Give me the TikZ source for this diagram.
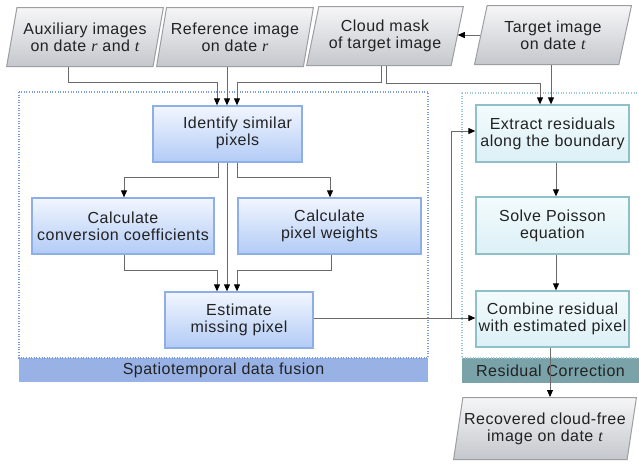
\documentclass[tikz,border=0pt]{standalone}
\usepackage{fontspec}
\setmainfont{Liberation Sans}[LetterSpace=3]
\newfontfamily\myserifit{Liberation Serif}[ItalicFont=* Italic]
\usetikzlibrary{shapes.geometric,arrows.meta,calc}
\definecolor{txtc}{HTML}{222222}
\definecolor{bluebd}{HTML}{8EAEE6}
\definecolor{bluetop}{HTML}{F2F6FE}
\definecolor{bluebot}{HTML}{B2CBF6}
\definecolor{tealbd}{HTML}{8FC0CA}
\definecolor{tealtop}{HTML}{F3FBFD}
\definecolor{tealbot}{HTML}{DCF0F6}
\definecolor{parabd}{HTML}{9C9EA2}
\definecolor{paratop}{HTML}{F6F6F7}
\definecolor{parabot}{HTML}{C4C7CC}
\definecolor{barL}{HTML}{98B2E6}
\definecolor{barR}{HTML}{79A3A9}
\definecolor{frameL}{HTML}{7C9BDB}
\definecolor{frameR}{HTML}{9CC9D3}
\definecolor{linec}{HTML}{6A6A6A}
\newcommand{\myr}{{\myserifit\itshape r}}
\newcommand{\myt}{{\myserifit\itshape t}}
\begin{document}
\begin{tikzpicture}[x=1pt,y=-1pt,
  font=\fontsize{16}{17}\selectfont,
  bluebox/.style={draw=bluebd, line width=1.3pt, top color=bluetop, bottom color=bluebot,
    minimum height=56pt, align=center, text=txtc, inner sep=0pt},
  tealbox/.style={draw=tealbd, line width=1.3pt, top color=tealtop, bottom color=tealbot,
    minimum width=153pt, minimum height=56pt, align=center, text=txtc, inner sep=0pt},
  para/.style={trapezium, trapezium left angle=72, trapezium right angle=108,
    trapezium stretches=true, draw=parabd, line width=1pt, top color=paratop,
    bottom color=parabot, minimum width=157pt, minimum height=59pt, align=center,
    text=txtc, inner sep=0pt},
  conn/.style={draw=linec, line width=0.9pt, -{Triangle[length=7pt,width=6pt,color=black]}},
  barlabel/.style={text=txtc, font=\fontsize{16}{17}\selectfont},
  frameLs/.style={draw=frameL, line width=1.2pt, dash pattern=on 1pt off 1.6pt},
  frameRs/.style={draw=frameR, line width=1.2pt, dash pattern=on 1pt off 1.6pt}
]
\useasboundingbox (0,0) rectangle (639,464);
\fill[white] (0,0) rectangle (639,464);

% frames and bars
\fill[barL] (19,358) rectangle (428,382);
\fill[barR] (462,358) rectangle (639,383);
\draw[frameLs] (19,92) rectangle (428,358);
\draw[frameRs] (462,93) -- (638,93);
\draw[frameRs] (462,93) -- (462,358) -- (639,358);
\node[barlabel] (fusionlabel) at (223.5,370.5) {Spatiotemporal data fusion};
\node[barlabel] (correctionlabel) at (550.5,370.5) {Residual Correction};

% inputs
\node[para] (aux) at (85,37) {Auxiliary images\\on date \myr{} and \myt};
\node[para] (ref) at (235,37) {Reference image\\on date \myr};
\node[para] (mask) at (385,36) {Cloud mask\\of target image};
\node[para] (target) at (553,35) {Target image\\on date \myt};
\node[para, minimum width=183pt, minimum height=62pt, trapezium left angle=74, trapezium right angle=106] (recovered) at (545,428.5) {Recovered cloud-free\\image on date \myt};

% blue boxes
\node[bluebox, minimum width=149pt] (identify) at (227.5,134) {\hspace*{20pt}\begin{tabular}{@{}c@{}}Identify similar\\pixels\end{tabular}};
\node[bluebox, minimum width=182pt] (conv) at (123,226) {Calculate\\conversion coefficients};
\node[bluebox, minimum width=183pt] (weights) at (329.5,226) {Calculate\\pixel weights};
\node[bluebox, minimum width=148pt] (estimate) at (239,320) {Estimate\\missing pixel};

% teal boxes
\node[tealbox, minimum height=57pt] (extract) at (552.5,133.5) {Extract residuals\\along the boundary};
\node[tealbox, minimum height=57pt] (solve) at (552.5,225.5) {Solve Poisson\\equation};
\node[tealbox] (combine) at (552.5,319) {Combine residual\\with estimated pixel};

% connectors
\draw[conn] (68,0 |- aux.south) |- (217,82) -- (217,0 |- identify.north);
\draw[conn] (227,0 |- ref.south) -- (227,0 |- identify.north);
\draw[conn] (381,0 |- mask.south) |- (237,82) -- (237,0 |- identify.north);
\draw[conn] (386,0 |- mask.south) |- (540,83) -- (540,0 |- extract.north);
\draw[conn] (551,0 |- target.south) -- (551,0 |- extract.north);
\draw[conn] (target.west) -- (target.west -| mask.east);

\draw[conn] (218,0 |- identify.south) |- (124,177) -- (124,0 |- conv.north);
\draw[conn] (227,0 |- identify.south) -- (227,0 |- estimate.north);
\draw[conn] (237,0 |- identify.south) |- (330,177) -- (330,0 |- weights.north);
\draw[conn] (124,0 |- conv.south) |- (217,270) -- (217,0 |- estimate.north);
\draw[conn] (331,0 |- weights.south) |- (237,270) -- (237,0 |- estimate.north);

\draw[conn] (estimate.east |- 0,318) -- (combine.west |- 0,318);
\coordinate (branch) at (451,318);
\draw[conn] (branch) |- (extract.west |- 0,131);

\draw[conn] (556,0 |- extract.south) -- (556,0 |- solve.north);
\draw[conn] (556,0 |- solve.south) -- (556,0 |- combine.north);
\draw[conn] (550,0 |- combine.south) -- (550,0 |- recovered.north);
\end{tikzpicture}
\end{document}
